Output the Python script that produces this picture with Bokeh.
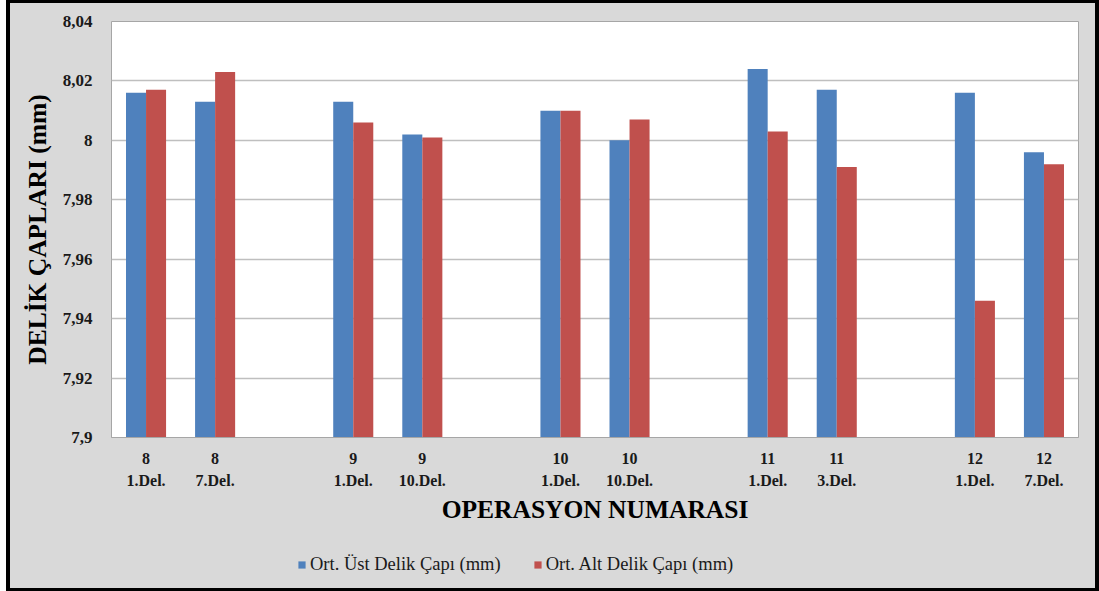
from bokeh.plotting import figure
from bokeh.models import (FixedTicker, CustomJSTickFormatter, Legend, LegendItem,
                          ColumnDataSource, Range1d)
from bokeh.layouts import column
from bokeh.embed import file_html
from bokeh.resources import INLINE

# ---- data ----
operations = ["8", "8", "", "9", "9", "", "10", "10", "", "11", "11", "", "12", "12"]
holes = ["1.Del.", "7.Del.", "", "1.Del.", "10.Del.", "", "1.Del.", "10.Del.", "",
         "1.Del.", "3.Del.", "", "1.Del.", "7.Del."]
ust_capi = [8.016, 8.013, None, 8.013, 8.002, None, 8.010, 8.000, None,
            8.024, 8.017, None, 8.016, 7.996]
alt_capi = [8.017, 8.023, None, 8.006, 8.001, None, 8.010, 8.007, None,
            8.003, 7.991, None, 7.946, 7.992]
y_ticks = [7.90, 7.92, 7.94, 7.96, 7.98, 8.00, 8.02, 8.04]
series_names = ["Ort. Üst Delik Çapı (mm)", "Ort. Alt Delik Çapı (mm)"]

BLUE = "#4f81bd"
RED = "#c0504d"
BG = "#d9d9d9"
SERIF = "Liberation Serif"

idx = [i for i, v in enumerate(ust_capi) if v is not None]
bar_w = 0.29
src_u = ColumnDataSource(dict(x=[i - bar_w / 2 for i in idx], top=[ust_capi[i] for i in idx]))
src_a = ColumnDataSource(dict(x=[i + bar_w / 2 for i in idx], top=[alt_capi[i] for i in idx]))

p = figure(width=1085, height=540, output_backend="svg", toolbar_location=None,
           x_range=Range1d(-0.5, len(operations) - 0.5),
           y_range=Range1d(y_ticks[0], y_ticks[-1]),
           min_border_left=101, min_border_right=17, min_border_top=18, min_border_bottom=106)

p.background_fill_color = "white"
p.border_fill_color = BG
p.outline_line_color = "#a6a6a6"
p.outline_line_width = 1

p.vbar(x="x", top="top", bottom=y_ticks[0], width=bar_w, source=src_u,
       fill_color=BLUE, line_color=None)
p.vbar(x="x", top="top", bottom=y_ticks[0], width=bar_w, source=src_a,
       fill_color=RED, line_color=None)

# axes
p.xaxis.ticker = FixedTicker(ticks=idx)
p.xaxis.major_label_overrides = {i: f"{operations[i]}\n{holes[i]}" for i in idx}
p.yaxis.ticker = FixedTicker(ticks=y_ticks)
p.yaxis.formatter = CustomJSTickFormatter(
    code="var s = tick.toFixed(2).replace(/0+$/, '').replace(/\\.$/, ''); return s.replace('.', ',');")

for ax in (p.xaxis[0], p.yaxis[0]):
    ax.major_tick_line_color = None
    ax.minor_tick_line_color = None
    ax.major_label_text_font = SERIF
    ax.major_label_text_font_style = "bold"
    ax.major_label_text_color = "#1a1a1a"
    ax.axis_label_text_font = SERIF
    ax.axis_label_text_font_style = "bold"
    ax.axis_label_text_font_size = "25.5px"
    ax.axis_label_text_color = "black"

p.xaxis.major_label_text_font_size = "16px"
p.xaxis.major_label_text_line_height = 1.3
p.yaxis.major_label_text_font_size = "17px"
p.xaxis.axis_line_color = "#a6a6a6"
p.yaxis.axis_line_color = None
p.xaxis.major_label_standoff = 6
p.yaxis.major_label_standoff = 13
p.xaxis.axis_label = "OPERASYON NUMARASI"
p.yaxis.axis_label = "DELİK ÇAPLARI (mm)"
p.xaxis.axis_label_standoff = 3
p.yaxis.axis_label_standoff = 8

p.xgrid.grid_line_color = None
p.ygrid.grid_line_color = "#bfbfbf"
p.ygrid.grid_line_width = 1.5

# ---- legend strip (same grey chart area) ----
leg = figure(width=1085, height=45, output_backend="svg", toolbar_location=None,
             x_range=Range1d(0, 1), y_range=Range1d(0, 1),
             min_border_left=0, min_border_right=0, min_border_top=0, min_border_bottom=0)
leg.axis.visible = False
leg.grid.visible = False
leg.outline_line_color = None
leg.background_fill_color = BG
leg.border_fill_color = BG
hidden = dict(x=[-5.0], top=[-5.0])  # outside the strip's ranges: only the legend swatch shows
lb = leg.vbar(x="x", top="top", bottom=-6.0, width=0.1, source=ColumnDataSource(hidden),
              fill_color=BLUE, line_color=None)
lr = leg.vbar(x="x", top="top", bottom=-6.0, width=0.1, source=ColumnDataSource(hidden),
              fill_color=RED, line_color=None)
legend = Legend(items=[LegendItem(label=series_names[0], renderers=[lb]),
                       LegendItem(label=series_names[1], renderers=[lr])],
                orientation="horizontal", location=(186, 13),
                background_fill_alpha=0, border_line_color=None,
                padding=0, margin=0, spacing=32,
                glyph_width=9, glyph_height=9, label_standoff=4,
                label_text_font=SERIF, label_text_font_size="18.5px",
                label_text_color="#1a1a1a")
leg.add_layout(legend, "center")

inner = column(p, leg, spacing=0, margin=(3, 4, 3, 4),
               styles={"background-color": BG})
outer = column(inner, margin=(0, 0, 0, 6), styles={"background-color": "black"})

open("out.html", "w").write(file_html(outer, INLINE))
